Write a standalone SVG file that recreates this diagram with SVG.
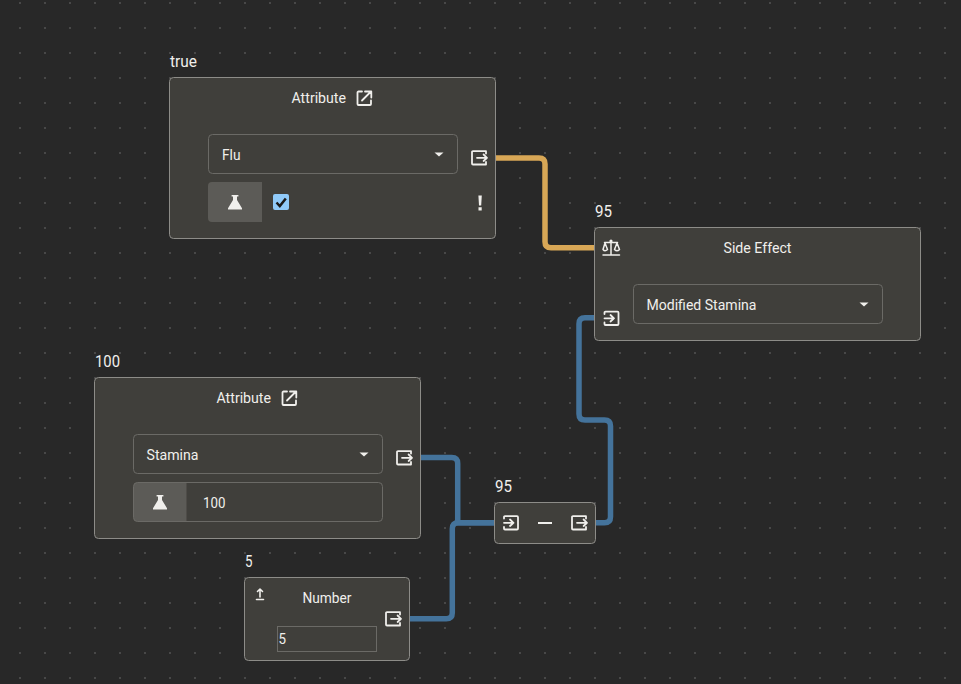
<svg xmlns="http://www.w3.org/2000/svg" width="961" height="684" viewBox="0 0 961 684">
  <style>
    .node { fill: #403f3b; stroke: #8d8c88; stroke-width: 1; }
    .field { fill: none; stroke: #6b6a66; stroke-width: 1; }
    .wire { fill: none; stroke-width: 5.5; stroke-linejoin: round; }
    .blue { stroke: #44739b; }
    .gold { stroke: #d8a756; }
    text { font-family: Roboto, "Liberation Sans", sans-serif; fill: #f0efec; font-size: 15.5px; }
    .value { font-size: 17px; }
    .ico { fill: none; stroke: #f0efec; stroke-width: 1.8; stroke-linejoin: round; stroke-linecap: round; }
    .solid { fill: #f0efec; stroke: none; }
  </style>
  <defs>
    <pattern id="dots" width="25" height="25" patternUnits="userSpaceOnUse">
      <rect x="19" y="2" width="2" height="2" fill="#484848"/>
    </pattern>
    <g id="out-port">
      <path class="ico" d="M15 3.5V1.2H2a1 1 0 0 0-1 1V13.5a1 1 0 0 0 1 1H15V12M6 7.8H16M12.6 4.5L16 7.8L12.6 11"/>
    </g>
    <g id="in-port">
      <path class="ico" d="M1 3.5V2.2a1 1 0 0 1 1-1H14a1 1 0 0 1 1 1V13.5a1 1 0 0 1-1 1H2a1 1 0 0 1-1-1V12M1 7.8H10.5M7 4.5L10.5 7.8L7 11"/>
    </g>
    <g id="launch">
      <path class="ico" d="M5.5 1.5H2a1 1 0 0 0-1 1V14a1 1 0 0 0 1 1H13.5a1 1 0 0 0 1-1V10.5M5.5 10.5L14.5 1.5M8.5 1.5H14.8V7.5"/>
    </g>
    <path id="flask" class="solid" d="M3.6 0H10.4V1.6H9V5L14 13.2V14.5H0V13.2L5 5V1.6H3.6Z"/>
    <path id="caret" class="solid" d="M0 0H9L4.5 4Z"/>
  </defs>

  <rect width="961" height="684" fill="#282828"/>
  <rect width="961" height="684" fill="url(#dots)"/>

  <g id="connectors">
    <path class="wire gold" d="M495 158H539Q545 158 545 164V241.7Q545 247.7 551 247.7H595"/>
    <path class="wire blue" d="M420 457.5H451.7Q457.7 457.5 457.7 463.5V522.7H495"/>
    <path class="wire blue" d="M409.5 618.7H446.3Q452.3 618.7 452.3 612.7V528.7Q452.3 522.7 458.3 522.7H495"/>
    <path class="wire blue" d="M595.5 522.7H604.5Q610.5 522.7 610.5 516.7V426Q610.5 420 604.5 420H585Q579 420 579 414V323.7Q579 317.7 585 317.7H595"/>
  </g>

  <g id="node-attribute-flu">
    <text class="value" x="170" y="67" textLength="27" lengthAdjust="spacingAndGlyphs">true</text>
    <rect class="node" x="169.5" y="77.5" width="326" height="161" rx="4"/>
    <text x="291.5" y="103" textLength="54.5" lengthAdjust="spacingAndGlyphs">Attribute</text>
    <use href="#launch" x="356.5" y="90"/>
    <rect class="field" x="208.5" y="134.5" width="249" height="39" rx="4"/>
    <text x="222" y="160" textLength="18.5" lengthAdjust="spacingAndGlyphs">Flu</text>
    <use href="#caret" x="434.5" y="152.5"/>
    <use href="#out-port" x="471" y="150"/>
    <path d="M208 186a4 4 0 0 1 4-4H262V222H212a4 4 0 0 1-4-4Z" fill="#5c5b57"/>
    <use href="#flask" x="228" y="195"/>
    <rect x="273" y="194" width="16" height="16" rx="2" fill="#90caf9"/>
    <path d="M276.5 202.5L279.8 206L285.8 198.5" fill="none" stroke="#1a1a1a" stroke-width="2.5"/>
    <path class="solid" d="M478.4 195.5H481.8L481.2 205.5H479ZM478.5 207.3H481.7V210.5H478.5Z"/>
  </g>

  <g id="node-side-effect">
    <text class="value" x="595" y="217" textLength="17" lengthAdjust="spacingAndGlyphs">95</text>
    <rect class="node" x="594.5" y="227.5" width="326" height="113" rx="4"/>
    <path class="ico" style="stroke-width:1.5" d="M603 255H619.5M611 242.5V254M604.5 242.5H617.5M605 243L603 249.5Q605 252 607.5 249.5ZM617 243L614.5 249.5Q617 252 619.5 249.5Z"/>
    <circle cx="611" cy="241" r="1.6" class="solid"/>
    <text x="723.5" y="253" textLength="68" lengthAdjust="spacingAndGlyphs">Side Effect</text>
    <use href="#in-port" x="603.5" y="310.5"/>
    <rect class="field" x="633.5" y="284.5" width="249" height="39" rx="4"/>
    <text x="646.5" y="310" textLength="110" lengthAdjust="spacingAndGlyphs">Modified Stamina</text>
    <use href="#caret" x="859.5" y="302.5"/>
  </g>

  <g id="node-attribute-stamina">
    <text class="value" x="95" y="367" textLength="25" lengthAdjust="spacingAndGlyphs">100</text>
    <rect class="node" x="94.5" y="377.5" width="326" height="161" rx="4"/>
    <text x="216.5" y="403" textLength="54.5" lengthAdjust="spacingAndGlyphs">Attribute</text>
    <use href="#launch" x="281.5" y="390"/>
    <rect class="field" x="133.5" y="434.5" width="249" height="39" rx="4"/>
    <text x="146.5" y="460" textLength="52" lengthAdjust="spacingAndGlyphs">Stamina</text>
    <use href="#caret" x="359.5" y="452.5"/>
    <use href="#out-port" x="396" y="450"/>
    <path d="M133.5 486.5a4 4 0 0 1 4-4H186.5V521.5H137.5a4 4 0 0 1-4-4Z" fill="#5c5b57"/>
    <rect class="field" x="133.5" y="482.5" width="249" height="39" rx="4"/>
    <use href="#flask" x="153" y="495"/>
    <text x="203" y="508" textLength="22.5" lengthAdjust="spacingAndGlyphs">100</text>
  </g>

  <g id="node-subtract">
    <text class="value" x="495" y="492" textLength="17" lengthAdjust="spacingAndGlyphs">95</text>
    <rect class="node" x="494.5" y="502.5" width="101" height="41" rx="4"/>
    <use href="#in-port" x="503" y="515"/>
    <path class="solid" d="M538 522H552V524H538Z"/>
    <use href="#out-port" x="571" y="515"/>
  </g>

  <g id="node-number">
    <text class="value" x="245" y="567" textLength="7.5" lengthAdjust="spacingAndGlyphs">5</text>
    <rect class="node" x="244.5" y="577.5" width="165" height="83" rx="4"/>
    <path class="ico" style="stroke-width:1.6" d="M260 589V597M257.5 591.5L260 589L262.5 591.5M256.5 599.5H263.5"/>
    <text x="302.5" y="603" textLength="49" lengthAdjust="spacingAndGlyphs">Number</text>
    <use href="#out-port" x="385" y="611"/>
    <rect class="field" x="277.5" y="626.5" width="99" height="25"/>
    <text x="278.5" y="644" textLength="7.5" lengthAdjust="spacingAndGlyphs">5</text>
  </g>
</svg>
